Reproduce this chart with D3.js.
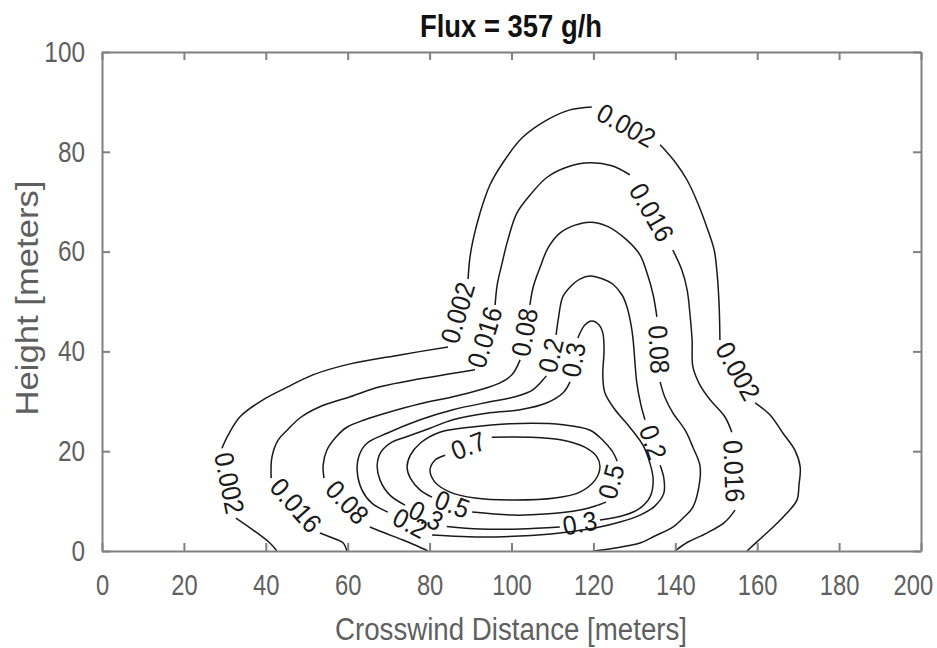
<!DOCTYPE html>
<html>
<head>
<meta charset="utf-8">
<script src="https://cdn.jsdelivr.net/npm/d3@7"></script>
<style>
  body { margin: 0; background: #fff; }
  .tick text { font-family: 'Liberation Sans', Arial, sans-serif; font-size: 29px; fill: #5f5f5f; }
</style>
</head>
<body>
<svg id="chart" width="937" height="648"></svg>
<script>
/* title and axis labels */
const titleText = 'Flux = 357 g/h'
const xLabel = 'Crosswind Distance [meters]'
const yLabel = 'Height [meters]'

/* tick values */
const xTicks = [0, 20, 40, 60, 80, 100, 120, 140, 160, 180, 200]
const yTicks = [0, 20, 40, 60, 80, 100]

/* contour levels, each traced as segments broken where the inline labels sit */
const levels = ['0.002', '0.016', '0.08', '0.2', '0.3', '0.5', '0.7']

const contour0002 = [
  [[42.7, 0], [41.0, 1.6], [36.9, 4.2], [32.7, 6.6]],
  [[29.3, 20.6], [30.8, 23.2], [33.7, 26.9], [39.3, 30.3], [45.9, 33.1], [51.5, 35.3], [60.6, 37.5], [72.8, 39.3], [84.5, 40.9]],
  [[89.4, 54.5], [89.8, 58.5], [90.6, 62.3], [92.3, 67.7], [94.7, 73.3], [97.9, 77.8], [102.6, 82.8], [108.7, 86.4], [114.3, 88.4], [119.6, 89.0]],
  [[136.3, 81.4], [139.9, 78.0], [142.9, 74.3], [145.5, 69.7], [147.7, 64.9], [149.5, 60.3], [150.2, 55.7], [150.7, 49.3], [150.9, 42.3]],
  [[159.5, 29.7], [163.1, 27.3], [166.3, 23.6], [169.2, 20.2], [170.5, 16.8], [170.2, 13.2], [169.7, 10.2], [166.8, 7.2], [163.9, 4.8], [160.7, 2.4], [157.5, 0]]
]

const contour0016 = [
  [[59.8, 0], [58.9, 1.6], [55.7, 2.8], [53.2, 3.6]],
  [[41.3, 14.6], [41.5, 18.8], [43.0, 22.2], [45.2, 24.2], [48.4, 26.7], [53.2, 28.9], [60.6, 30.9], [67.9, 32.9], [77.7, 34.5], [85.0, 35.5], [91.1, 36.3]],
  [[96.0, 49.3], [96.5, 53.3], [97.7, 57.7], [99.1, 62.3], [101.3, 67.7], [104.5, 71.3], [108.7, 74.9], [113.8, 77.0], [119.2, 77.8], [124.5, 77.2], [128.9, 75.4]],
  [[139.4, 60.3], [141.6, 56.3], [142.9, 52.3], [143.6, 47.3], [144.1, 42.3], [144.3, 36.9], [146.0, 33.3], [148.5, 30.3], [152.1, 26.9], [153.8, 23.8]],
  [[154.6, 8.2], [152.1, 5.8], [147.7, 3.6], [143.1, 1.8], [139.9, 0]]
]

const contour008 = [
  [[79.6, 0], [76.4, 1.2], [73.5, 2.2], [69.1, 3.6], [65.4, 4.8]],
  [[54.2, 14.6], [54.0, 17.2], [54.9, 20.2], [57.1, 22.8], [59.8, 24.8], [64.2, 26.3], [69.6, 27.7], [77.7, 29.5], [85.7, 30.9], [92.3, 32.3], [97.2, 33.7], [100.1, 35.3], [102.1, 38.3]],
  [[104.5, 49.3], [105.3, 52.9], [107.0, 56.9], [108.9, 60.7], [111.8, 63.7], [115.5, 65.3], [119.2, 65.9], [123.3, 65.1], [128.2, 62.3], [131.4, 59.3], [133.1, 55.7], [134.6, 51.3], [135.5, 46.9]],
  [[136.3, 33.9], [137.5, 30.7], [139.4, 27.7], [142.4, 24.2], [144.3, 20.8], [146.0, 17.2], [146.0, 14.2], [144.3, 8.8], [141.9, 6.6], [139.4, 4.8], [135.0, 3.0], [131.4, 1.6], [125.3, 0.6], [119.9, 0]]
]

const contour02 = [
  [[110.9, 43.3], [111.4, 46.3], [112.5, 50.9], [114.3, 52.9], [116.7, 54.5], [119.2, 55.1], [122.3, 54.5], [124.7, 53.5], [127.0, 51.3], [128.2, 48.9], [129.2, 45.3], [129.7, 42.3], [130.1, 38.3], [130.6, 33.7], [131.6, 29.3], [132.6, 26.3]],
  [[136.3, 17.2], [137.2, 14.6], [137.2, 11.6], [135.0, 9.0], [131.4, 7.2], [126.5, 5.8], [120.4, 4.6], [111.8, 3.6], [102.1, 3.0], [92.3, 2.8], [85.0, 3.0], [80.6, 3.2]],
  [[69.8, 7.8], [65.9, 9.6], [63.5, 12.2], [62.3, 16.2], [62.8, 19.2], [64.7, 21.6], [69.6, 23.6], [77.7, 26.3], [85.7, 28.3], [94.7, 29.9], [100.9, 30.9], [105.2, 32.3], [107.7, 34.3], [108.5, 35.1]]
]

const contour03 = [
  [[116.2, 42.7], [117.9, 45.3], [119.6, 46.1], [121.4, 45.3], [122.3, 43.7], [122.6, 40.3], [122.3, 35.3], [122.8, 31.7], [125.3, 28.3], [128.9, 24.8], [132.1, 21.2], [133.8, 17.6], [134.6, 14.2], [133.8, 10.8], [131.4, 8.6], [127.7, 7.2], [121.6, 6.2]],
  [[111.8, 4.8], [102.1, 4.4], [92.3, 4.4], [84.2, 4.9]],
  [[74.0, 9.2], [70.3, 11.2], [67.9, 14.2], [67.2, 17.2], [68.1, 19.8], [70.8, 21.8], [74.0, 22.8], [80.1, 24.6], [85.7, 26.3], [94.7, 27.7], [102.1, 28.3], [108.7, 29.7], [112.6, 31.7], [114.3, 33.9]]
]

const contour05 = [
  [[123.1, 9.8], [120.4, 9.0], [116.7, 8.2], [108.2, 7.4], [100.4, 7.2], [90.4, 7.8]],
  [[80.6, 10.8], [77.7, 12.2], [75.3, 14.6], [74.5, 16.8], [75.3, 19.2], [77.7, 21.6], [82.5, 23.8], [89.9, 24.8], [99.6, 25.5], [112.6, 25.3], [119.2, 24.2], [122.3, 22.2], [124.6, 20.0], [125.8, 18.0]]
]

const contour07 = [
  [[95.2, 22.8], [104.5, 22.8], [112.6, 22.2], [117.9, 20.8], [120.9, 18.8], [121.6, 16.8], [120.4, 14.2], [116.7, 11.8], [110.6, 10.6], [100.4, 10.2], [91.1, 10.6], [85.0, 11.8], [81.3, 13.8], [80.1, 16.2], [81.3, 18.2], [83.8, 19.2]]
]

/* which contours close on themselves (label gap wraps to the first segment) */
const closedLoops = [false, false, false, true, true, true, true]
const contourSegs = [contour0002, contour0016, contour008, contour02, contour03, contour05, contour07]

/* scales */
const x = d3.scaleLinear().domain([0, 200]).range([102, 921])
const y = d3.scaleLinear().domain([0, 100]).range([551, 52])

const svg = d3.select('#chart')

/* narrow font is not installed, so squeeze regular glyphs */
function squeeze(sel, k) {
  sel.each(function () {
    const w = this.getComputedTextLength()
    d3.select(this).attr('textLength', w * k).attr('lengthAdjust', 'spacingAndGlyphs')
  })
}

/* contour line generator */
const contourLine = d3
  .line()
  .x((d) => x(d[0]))
  .y((d) => y(d[1]))
  .curve(d3.curveCatmullRom.alpha(0.5))

/* draw contour segments */
contourSegs.forEach(function (segs, i) {
  const g = svg.append('g').attr('class', 'contour')
  g.selectAll('path')
    .data(segs)
    .join('path')
    .attr('d', contourLine)
    .attr('fill', 'none')
    .attr('stroke', '#1a1a1a')
    .attr('stroke-width', 1.5)

  /* labels sit in the gaps between consecutive segments */
  const nGaps = closedLoops[i] ? segs.length : segs.length - 1
  for (let k = 0; k < nGaps; k++) {
    const a = segs[k][segs[k].length - 1]
    const b = segs[(k + 1) % segs.length][0]
    const ax = x(a[0]), ay = y(a[1]), bx = x(b[0]), by = y(b[1])
    let ang = (Math.atan2(by - ay, bx - ax) * 180) / Math.PI
    if (ang > 90) ang -= 180
    if (ang <= -90) ang += 180
    g.append('text')
      .attr('transform', `translate(${(ax + bx) / 2}, ${(ay + by) / 2}) rotate(${ang})`)
      .attr('text-anchor', 'middle')
      .attr('dominant-baseline', 'central')
      .style('font-family', "'Liberation Sans', Arial, sans-serif")
      .style('font-size', '27px')
      .attr('fill', '#1a1a1a')
      .text(levels[i])
      .call(squeeze, 0.92)
  }
})

/* axes, MATLAB style box with inward ticks */
function styleAxis(g) {
  g.select('.domain').attr('stroke', '#808080').attr('stroke-width', 2)
  g.selectAll('.tick line').attr('stroke', '#808080').attr('stroke-width', 2)
}

svg.append('g')
  .attr('transform', `translate(0, ${y(0)})`)
  .call(d3.axisBottom(x).tickValues(xTicks).tickSizeInner(-8).tickSizeOuter(0).tickPadding(23))
  .call(styleAxis)
  /* squeeze horizontally with a transform so the box really shrinks */
  .call((g) => g.selectAll('.tick text').attr('transform', 'scale(0.82, 1)'))
  /* keep the last label inside the window */
  .call((g) => g.selectAll('.tick text').filter((d) => d === 200).attr('dx', -10))

svg.append('g')
  .attr('transform', `translate(0, ${y(100)})`)
  .call(d3.axisTop(x).tickValues(xTicks).tickSizeInner(-8).tickSizeOuter(0).tickFormat(() => ''))
  .call(styleAxis)

svg.append('g')
  .attr('transform', `translate(${x(0)}, 0)`)
  .call(d3.axisLeft(y).tickValues(yTicks).tickSizeInner(-8).tickSizeOuter(0).tickPadding(17))
  .call(styleAxis)
  .call((g) => g.selectAll('.tick text').call(squeeze, 0.84))

svg.append('g')
  .attr('transform', `translate(${x(200)}, 0)`)
  .call(d3.axisRight(y).tickValues(yTicks).tickSizeInner(-8).tickSizeOuter(0).tickFormat(() => ''))
  .call(styleAxis)

/* title */
svg.append('text')
  .attr('x', 511)
  .attr('y', 37)
  .attr('text-anchor', 'middle')
  .style('font-family', "'Liberation Sans', Arial, sans-serif")
  .style('font-size', '32px')
  .style('font-weight', 'bold')
  .attr('fill', '#111')
  .attr('textLength', 182)
  .attr('lengthAdjust', 'spacingAndGlyphs')
  .text(titleText)

/* x-axis label */
svg.append('text')
  .attr('x', 511)
  .attr('y', 640)
  .attr('text-anchor', 'middle')
  .style('font-family', "'Liberation Sans', Arial, sans-serif")
  .style('font-size', '31px')
  .attr('fill', '#5f5f5f')
  .attr('textLength', 352)
  .attr('lengthAdjust', 'spacingAndGlyphs')
  .text(xLabel)

/* y-axis label */
svg.append('text')
  .attr('transform', 'translate(38, 298) rotate(-90)')
  .attr('text-anchor', 'middle')
  .style('font-family', "'Liberation Sans', Arial, sans-serif")
  .style('font-size', '31px')
  .attr('fill', '#5f5f5f')
  .attr('textLength', 235)
  .attr('lengthAdjust', 'spacingAndGlyphs')
  .text(yLabel)
</script>
</body>
</html>
